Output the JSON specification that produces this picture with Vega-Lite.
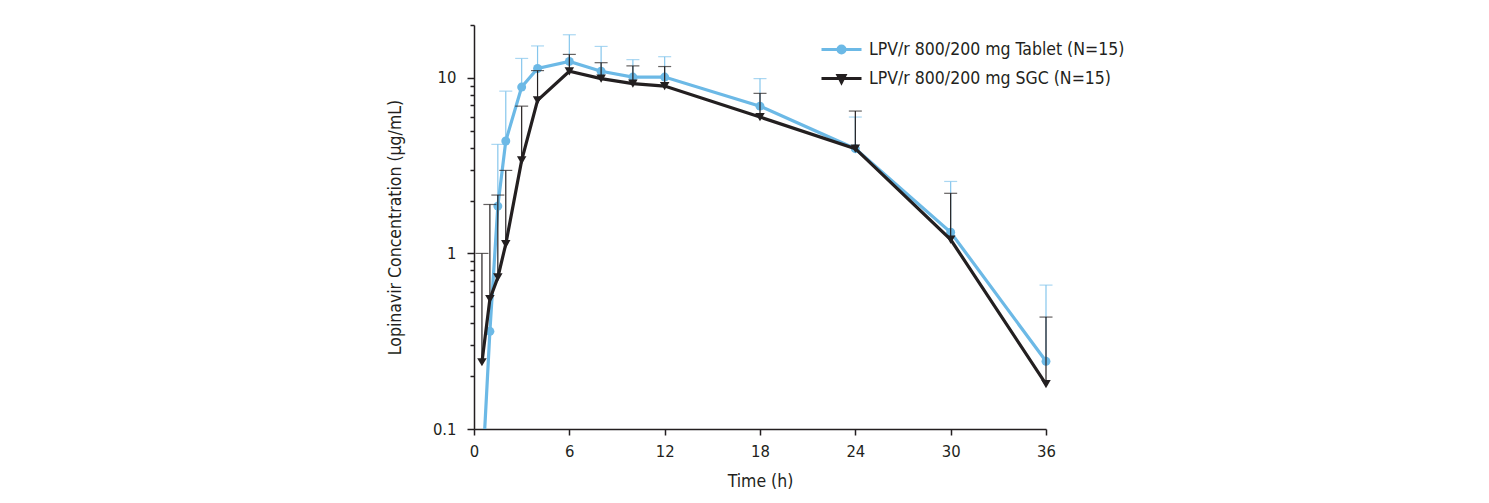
{
  "$schema": "https://vega.github.io/schema/vega-lite/v6.json",
  "width": 572,
  "height": 404,
  "autosize": {"type": "none"},
  "padding": {"left": 474, "top": 25, "right": 443, "bottom": 74},
  "background": "white",
  "config": {
    "view": {"stroke": null},
    "font": "DejaVu Sans Condensed, Roboto, sans-serif",
    "axis": {"grid": false, "domainColor": "#231f20", "tickColor": "#231f20", "domainWidth": 1.5, "tickWidth": 1.5, "labelFont": "DejaVu Sans Condensed, Roboto, sans-serif", "titleFont": "DejaVu Sans Condensed, Roboto, sans-serif", "labelFontSize": 16.5, "titleFontSize": 17.5, "labelColor": "#231f20", "titleColor": "#231f20", "titleFontWeight": "normal"}
  },
  "datasets": {
    "pk": [
      {"series": "LPV/r 800/200 mg Tablet (N=15)", "time": 0.5, "conc": 0.05, "upper": null},
      {"series": "LPV/r 800/200 mg Tablet (N=15)", "time": 1, "conc": 0.36, "upper": null},
      {"series": "LPV/r 800/200 mg Tablet (N=15)", "time": 1.5, "conc": 1.86, "upper": 4.18},
      {"series": "LPV/r 800/200 mg Tablet (N=15)", "time": 2, "conc": 4.37, "upper": 8.4},
      {"series": "LPV/r 800/200 mg Tablet (N=15)", "time": 3, "conc": 8.86, "upper": 12.9},
      {"series": "LPV/r 800/200 mg Tablet (N=15)", "time": 4, "conc": 11.3, "upper": 15.2},
      {"series": "LPV/r 800/200 mg Tablet (N=15)", "time": 6, "conc": 12.4, "upper": 17.6},
      {"series": "LPV/r 800/200 mg Tablet (N=15)", "time": 8, "conc": 10.9, "upper": 15.1},
      {"series": "LPV/r 800/200 mg Tablet (N=15)", "time": 10, "conc": 10.1, "upper": 12.7},
      {"series": "LPV/r 800/200 mg Tablet (N=15)", "time": 12, "conc": 10.1, "upper": 13.2},
      {"series": "LPV/r 800/200 mg Tablet (N=15)", "time": 18, "conc": 6.9, "upper": 9.9},
      {"series": "LPV/r 800/200 mg Tablet (N=15)", "time": 24, "conc": 3.95, "upper": 5.98},
      {"series": "LPV/r 800/200 mg Tablet (N=15)", "time": 30, "conc": 1.32, "upper": 2.57},
      {"series": "LPV/r 800/200 mg Tablet (N=15)", "time": 36, "conc": 0.243, "upper": 0.66},
      {"series": "LPV/r 800/200 mg SGC (N=15)", "time": 0.5, "conc": 0.24, "upper": 1.0},
      {"series": "LPV/r 800/200 mg SGC (N=15)", "time": 1, "conc": 0.55, "upper": 1.9},
      {"series": "LPV/r 800/200 mg SGC (N=15)", "time": 1.5, "conc": 0.73, "upper": 2.15},
      {"series": "LPV/r 800/200 mg SGC (N=15)", "time": 2, "conc": 1.13, "upper": 2.97},
      {"series": "LPV/r 800/200 mg SGC (N=15)", "time": 3, "conc": 3.39, "upper": 6.9},
      {"series": "LPV/r 800/200 mg SGC (N=15)", "time": 4, "conc": 7.45, "upper": 11.0},
      {"series": "LPV/r 800/200 mg SGC (N=15)", "time": 6, "conc": 10.9, "upper": 13.6},
      {"series": "LPV/r 800/200 mg SGC (N=15)", "time": 8, "conc": 9.9, "upper": 12.2},
      {"series": "LPV/r 800/200 mg SGC (N=15)", "time": 10, "conc": 9.27, "upper": 11.7},
      {"series": "LPV/r 800/200 mg SGC (N=15)", "time": 12, "conc": 8.98, "upper": 11.6},
      {"series": "LPV/r 800/200 mg SGC (N=15)", "time": 18, "conc": 5.98, "upper": 8.16},
      {"series": "LPV/r 800/200 mg SGC (N=15)", "time": 24, "conc": 3.95, "upper": 6.47},
      {"series": "LPV/r 800/200 mg SGC (N=15)", "time": 30, "conc": 1.2, "upper": 2.2},
      {"series": "LPV/r 800/200 mg SGC (N=15)", "time": 36, "conc": 0.18, "upper": 0.434}
    ]
  },
  "data": {"name": "pk"},
  "encoding": {
    "x": {"field": "time", "type": "quantitative", "scale": {"domain": [0, 36], "nice": false, "zero": false},
      "axis": {"values": [0, 6, 12, 18, 24, 30, 36], "title": "Time (h)", "tickSize": 6, "labelPadding": 8, "titlePadding": 13, "labelFlush": false}},
    "y": {"field": "conc", "type": "quantitative", "scale": {"type": "log", "domain": [0.1, 20], "nice": false},
      "axis": {"title": "Lopinavir Concentration (µg/mL)", "values": [0.1, 0.2, 0.3, 0.4, 0.5, 0.6, 0.7, 0.8, 0.9, 1, 2, 3, 4, 5, 6, 7, 8, 9, 10, 20],
        "labelExpr": "datum.value == 0.1 ? '0.1' : datum.value == 1 ? '1' : datum.value == 10 ? '10' : ''",
        "labelOverlap": false, "labelFlush": false,
        "tickSize": {"condition": {"test": "datum.value == 0.1 || datum.value == 1 || datum.value == 10", "value": 7}, "value": 4},
        "labelPadding": 11, "titlePadding": 28}}
  },
  "layer": [
    {"transform": [{"filter": "datum.series == 'LPV/r 800/200 mg Tablet (N=15)' && datum.upper != null"}],
     "mark": {"type": "rule", "color": "#86c6ec", "strokeWidth": 1.2},
     "encoding": {"y2": {"field": "upper"}}},
    {"transform": [{"filter": "datum.series == 'LPV/r 800/200 mg Tablet (N=15)' && datum.upper != null"}],
     "mark": {"type": "tick", "orient": "horizontal", "color": "#86c6ec", "thickness": 1.2, "size": 13},
     "encoding": {"y": {"field": "upper", "type": "quantitative"}}},
    {"transform": [{"filter": "datum.series == 'LPV/r 800/200 mg Tablet (N=15)'"}],
     "mark": {"type": "line", "color": "#6cb9e6", "strokeWidth": 3.2, "clip": true},
     "encoding": {}},
    {"transform": [{"filter": "datum.series == 'LPV/r 800/200 mg Tablet (N=15)' && datum.conc >= 0.1"}],
     "mark": {"type": "point", "shape": "circle", "filled": true, "size": 80, "opacity": 1},
     "encoding": {"color": {"field": "series", "type": "nominal",
        "scale": {"domain": ["LPV/r 800/200 mg Tablet (N=15)", "LPV/r 800/200 mg SGC (N=15)"], "range": ["#6cb9e6", "#231f20"]},
        "legend": {"orient": "none", "legendX": 356, "legendY": 13, "title": null, "padding": 0, "symbolSize": 400, "labelOffset": 16, "rowPadding": 8, "labelLimit": 400,
          "labelFont": "DejaVu Sans Condensed, Roboto, sans-serif", "labelFontSize": 17.5, "labelColor": "#231f20", "symbolOpacity": 1,
          "encode": {"symbols": {"update": {
            "shape": {"signal": "datum.value == 'LPV/r 800/200 mg Tablet (N=15)' ? 'M-2,0H2M0.35,0A0.35,0.35,0,1,1,-0.35,0A0.35,0.35,0,1,1,0.35,0Z' : 'M-2,0H2M-0.35,-0.3L0.35,-0.3L0,0.4Z'"},
            "size": {"value": 400},
            "fill": {"scale": "color", "field": "value"},
            "stroke": {"scale": "color", "field": "value"},
            "strokeWidth": {"value": 3},
            "opacity": {"value": 1}}}}}}}},
    {"transform": [{"filter": "datum.series == 'LPV/r 800/200 mg SGC (N=15)' && datum.upper != null"}],
     "mark": {"type": "rule", "color": "#231f20", "strokeWidth": 1.2},
     "encoding": {"y2": {"field": "upper"}}},
    {"transform": [{"filter": "datum.series == 'LPV/r 800/200 mg SGC (N=15)' && datum.upper != null"}],
     "mark": {"type": "tick", "orient": "horizontal", "color": "#231f20", "thickness": 1.2, "size": 13},
     "encoding": {"y": {"field": "upper", "type": "quantitative"}}},
    {"transform": [{"filter": "datum.series == 'LPV/r 800/200 mg SGC (N=15)'"}],
     "mark": {"type": "line", "color": "#231f20", "strokeWidth": 3.2, "clip": true},
     "encoding": {}},
    {"transform": [{"filter": "datum.series == 'LPV/r 800/200 mg SGC (N=15)'"}],
     "mark": {"type": "point", "shape": "triangle-down", "filled": true, "size": 90, "opacity": 1},
     "encoding": {"color": {"field": "series", "type": "nominal",
        "scale": {"domain": ["LPV/r 800/200 mg Tablet (N=15)", "LPV/r 800/200 mg SGC (N=15)"], "range": ["#6cb9e6", "#231f20"]},
        "legend": {"orient": "none", "legendX": 356, "legendY": 13, "title": null, "padding": 0, "symbolSize": 400, "labelOffset": 16, "rowPadding": 8, "labelLimit": 400,
          "labelFont": "DejaVu Sans Condensed, Roboto, sans-serif", "labelFontSize": 17.5, "labelColor": "#231f20", "symbolOpacity": 1,
          "encode": {"symbols": {"update": {
            "shape": {"signal": "datum.value == 'LPV/r 800/200 mg Tablet (N=15)' ? 'M-2,0H2M0.35,0A0.35,0.35,0,1,1,-0.35,0A0.35,0.35,0,1,1,0.35,0Z' : 'M-2,0H2M-0.35,-0.3L0.35,-0.3L0,0.4Z'"},
            "size": {"value": 400},
            "fill": {"scale": "color", "field": "value"},
            "stroke": {"scale": "color", "field": "value"},
            "strokeWidth": {"value": 3},
            "opacity": {"value": 1}}}}}}}}
  ]
}
